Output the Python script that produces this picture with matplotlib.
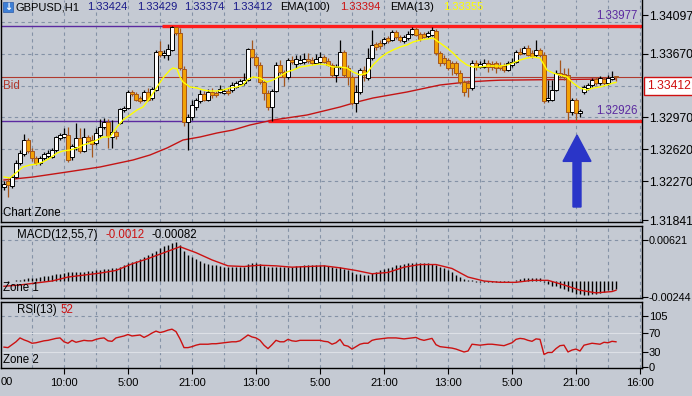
import matplotlib
matplotlib.use("Agg")
import matplotlib.pyplot as plt
from matplotlib.patches import Rectangle, FancyArrow

plt.rcParams['font.family'] = ['Liberation Sans', 'DejaVu Sans']
plt.rcParams['font.size'] = 7.8

# GBPUSD H1 candles
opens = [1.32205, 1.32271, 1.32216, 1.32315, 1.32469, 1.32568, 1.32722, 1.32601, 1.32524, 1.32469,
         1.32524, 1.32546, 1.32535, 1.32612, 1.32744, 1.32755, 1.32777, 1.32535, 1.32645, 1.32744,
         1.32601, 1.32755, 1.32722, 1.32689, 1.32777, 1.32865, 1.32920, 1.32755, 1.32810, 1.32909,
         1.33052, 1.33074, 1.33250, 1.33228, 1.33184, 1.33162, 1.33250, 1.33184, 1.33272, 1.33701,
         1.33657, 1.33657, 1.33712, 1.33965, 1.33899, 1.33503, 1.32920, 1.32975, 1.33085, 1.33151,
         1.33228, 1.33162, 1.33250, 1.33239, 1.33250, 1.33239, 1.33261, 1.33272, 1.33305, 1.33338,
         1.33349, 1.33382, 1.33723, 1.33635, 1.33547, 1.33360, 1.33239, 1.33085, 1.33261, 1.33547,
         1.33470, 1.33415, 1.33602, 1.33558, 1.33569, 1.33580, 1.33613, 1.33602, 1.33569, 1.33580,
         1.33635, 1.33591, 1.33547, 1.33437, 1.33525, 1.33690, 1.33514, 1.33415, 1.33129, 1.33250,
         1.33492, 1.33404, 1.33624, 1.33778, 1.33789, 1.33789, 1.33844, 1.33822, 1.33910, 1.33855,
         1.33811, 1.33844, 1.33888, 1.33943, 1.33888, 1.33888, 1.33866, 1.33877, 1.33921, 1.33679,
         1.33624, 1.33602, 1.33569, 1.33569, 1.33459, 1.33360, 1.33349, 1.33294, 1.33569, 1.33525,
         1.33525, 1.33569, 1.33558, 1.33569, 1.33547, 1.33536, 1.33492, 1.33547, 1.33580, 1.33690,
         1.33679, 1.33734, 1.33679, 1.33657, 1.33712, 1.33657, 1.33162, 1.33162, 1.33272, 1.33459,
         1.33448, 1.33437, 1.33030, 1.33162, 1.33019, 1.33250, 1.33294, 1.33327, 1.33393, 1.33349,
         1.33393, 1.33349, 1.33393, 1.33424]
closes = [1.32238, 1.32227, 1.32315, 1.32469, 1.32579, 1.32722, 1.32601, 1.32524, 1.32469, 1.32524,
          1.32568, 1.32579, 1.32612, 1.32755, 1.32777, 1.32788, 1.32502, 1.32656, 1.32744, 1.32601,
          1.32755, 1.32711, 1.32678, 1.32799, 1.32865, 1.32920, 1.32766, 1.32810, 1.32766, 1.33063,
          1.33074, 1.33250, 1.33228, 1.33162, 1.33151, 1.33250, 1.33162, 1.33283, 1.33690, 1.33657,
          1.33679, 1.33723, 1.33965, 1.33899, 1.33514, 1.32920, 1.32975, 1.33107, 1.33162, 1.33228,
          1.33162, 1.33250, 1.33217, 1.33217, 1.33283, 1.33261, 1.33239, 1.33327, 1.33349, 1.33371,
          1.33382, 1.33723, 1.33635, 1.33547, 1.33360, 1.33239, 1.33085, 1.33261, 1.33547, 1.33470,
          1.33415, 1.33602, 1.33580, 1.33613, 1.33602, 1.33613, 1.33591, 1.33569, 1.33613, 1.33635,
          1.33580, 1.33547, 1.33437, 1.33525, 1.33690, 1.33437, 1.33415, 1.33129, 1.33250, 1.33492,
          1.33437, 1.33624, 1.33767, 1.33745, 1.33756, 1.33833, 1.33811, 1.33910, 1.33855, 1.33822,
          1.33855, 1.33888, 1.33943, 1.33877, 1.33833, 1.33855, 1.33899, 1.33932, 1.33679, 1.33569,
          1.33569, 1.33514, 1.33514, 1.33459, 1.33360, 1.33250, 1.33294, 1.33569, 1.33525, 1.33558,
          1.33569, 1.33525, 1.33525, 1.33514, 1.33514, 1.33492, 1.33569, 1.33580, 1.33690, 1.33668,
          1.33734, 1.33657, 1.33646, 1.33712, 1.33657, 1.33151, 1.33184, 1.33272, 1.33459, 1.33437,
          1.33415, 1.33030, 1.33162, 1.33019, 1.33041, 1.33305, 1.33327, 1.33382, 1.33349, 1.33404,
          1.33349, 1.33404, 1.33415, 1.33412]
highs = [1.32271, 1.32304, 1.32337, 1.32502, 1.32612, 1.32788, 1.32744, 1.32634, 1.32546, 1.32546,
         1.32590, 1.32612, 1.32634, 1.32766, 1.32799, 1.32854, 1.32865, 1.32678, 1.32909, 1.32854,
         1.32854, 1.32777, 1.32777, 1.32854, 1.32953, 1.32964, 1.32953, 1.32942, 1.32832, 1.33074,
         1.33096, 1.33272, 1.33272, 1.33250, 1.33206, 1.33272, 1.33294, 1.33305, 1.33712, 1.33811,
         1.33712, 1.33778, 1.33977, 1.33970, 1.33954, 1.33536, 1.33008, 1.33162, 1.33184, 1.33272,
         1.33261, 1.33283, 1.33294, 1.33261, 1.33327, 1.33283, 1.33294, 1.33360, 1.33371, 1.33393,
         1.33459, 1.33734, 1.33822, 1.33657, 1.33580, 1.33382, 1.33272, 1.33283, 1.33580, 1.33602,
         1.33492, 1.33624, 1.33646, 1.33657, 1.33657, 1.33679, 1.33679, 1.33635, 1.33668, 1.33690,
         1.33657, 1.33624, 1.33569, 1.33558, 1.33822, 1.33712, 1.33547, 1.33437, 1.33327, 1.33514,
         1.33536, 1.33734, 1.33932, 1.33800, 1.33822, 1.33855, 1.33866, 1.33932, 1.33932, 1.33877,
         1.33877, 1.33921, 1.33970, 1.33965, 1.33910, 1.33910, 1.33921, 1.33965, 1.33943, 1.33701,
         1.33657, 1.33624, 1.33591, 1.33591, 1.33492, 1.33382, 1.33382, 1.33602, 1.33602, 1.33591,
         1.33613, 1.33602, 1.33591, 1.33591, 1.33580, 1.33569, 1.33591, 1.33624, 1.33712, 1.33734,
         1.33756, 1.33767, 1.33712, 1.33822, 1.33734, 1.33690, 1.33382, 1.33382, 1.33492, 1.33602,
         1.33514, 1.33514, 1.33184, 1.33184, 1.33063, 1.33327, 1.33349, 1.33404, 1.33415, 1.33426,
         1.33415, 1.33437, 1.33481, 1.33429]
lows = [1.32172, 1.32095, 1.32194, 1.32304, 1.32447, 1.32546, 1.32579, 1.32491, 1.32447, 1.32447,
        1.32502, 1.32524, 1.32524, 1.32590, 1.32722, 1.32744, 1.32480, 1.32502, 1.32612, 1.32579,
        1.32590, 1.32689, 1.32535, 1.32667, 1.32755, 1.32843, 1.32634, 1.32634, 1.32733, 1.32898,
        1.33030, 1.33063, 1.33206, 1.33151, 1.33129, 1.33151, 1.33151, 1.33162, 1.33261, 1.33635,
        1.33624, 1.33602, 1.33701, 1.33877, 1.33492, 1.32876, 1.32612, 1.32942, 1.33052, 1.33129,
        1.33151, 1.33151, 1.33184, 1.33195, 1.33239, 1.33228, 1.33217, 1.33250, 1.33294, 1.33327,
        1.33327, 1.33371, 1.33624, 1.33525, 1.33338, 1.33162, 1.33052, 1.32926, 1.33250, 1.33448,
        1.33316, 1.33393, 1.33558, 1.33514, 1.33558, 1.33558, 1.33569, 1.33547, 1.33558, 1.33558,
        1.33569, 1.33536, 1.33415, 1.33360, 1.33503, 1.33415, 1.33327, 1.33107, 1.33030, 1.33228,
        1.33371, 1.33382, 1.33602, 1.33712, 1.33723, 1.33767, 1.33789, 1.33811, 1.33833, 1.33800,
        1.33789, 1.33822, 1.33877, 1.33866, 1.33811, 1.33844, 1.33844, 1.33866, 1.33657, 1.33536,
        1.33547, 1.33492, 1.33437, 1.33437, 1.33338, 1.33206, 1.33195, 1.33272, 1.33492, 1.33514,
        1.33514, 1.33470, 1.33492, 1.33459, 1.33492, 1.33470, 1.33481, 1.33525, 1.33569, 1.33657,
        1.33668, 1.33646, 1.33624, 1.33635, 1.33635, 1.33129, 1.33140, 1.33151, 1.33261, 1.33404,
        1.33382, 1.32926, 1.32997, 1.32926, 1.32975, 1.33228, 1.33272, 1.33305, 1.33327, 1.33327,
        1.33327, 1.33327, 1.33382, 1.33374]

# EMA(13) and EMA(100), read at bar positions
ema13_bar = [0, 1.5, 3.25, 4.75, 6.5, 8.25, 9.75, 11.5, 13.25, 14.75, 16.5, 18.25, 19.75, 21.5, 23.25,
             24.75, 26.5, 28.25, 29.75, 31.5, 33.25, 34.75, 36.5, 38.25, 39.75, 41.5, 42.25, 43.25, 44,
             44.75, 46.5, 48.25, 49.75, 51.5, 53.25, 54.75, 56.5, 58.25, 59.75, 60.75, 62.25, 64, 65.75,
             67.25, 69, 70.75, 72.25, 74, 75.75, 77.25, 79, 80.75, 82.25, 84, 85.75, 87.25, 89, 90.75,
             92.25, 94, 95.75, 97.25, 99, 100.75, 102.25, 104, 105.75, 107.25, 109, 110.75, 112.25, 114,
             115.75, 117.25, 119, 120.75, 122.25, 124, 125.75, 127.25, 129, 130.75, 132.25, 134, 135.75,
             137.25, 139, 140.75, 142.25, 144, 145.75, 147.25, 149, 150.75, 152.25, 153]
ema13 = [1.32315, 1.32304, 1.32370, 1.32425, 1.32447, 1.32458, 1.32480, 1.32524, 1.32579, 1.32601,
         1.32612, 1.32634, 1.32667, 1.32689, 1.32722, 1.32755, 1.32755, 1.32865, 1.32942, 1.32997,
         1.33052, 1.33085, 1.33184, 1.33305, 1.33404, 1.33492, 1.33514, 1.33503, 1.33415, 1.33360,
         1.33305, 1.33294, 1.33272, 1.33261, 1.33261, 1.33272, 1.33294, 1.33305, 1.33327, 1.33382,
         1.33415, 1.33404, 1.33360, 1.33382, 1.33426, 1.33470, 1.33492, 1.33525, 1.33536, 1.33547,
         1.33558, 1.33547, 1.33525, 1.33525, 1.33514, 1.33470, 1.33437, 1.33459, 1.33547, 1.33624,
         1.33679, 1.33712, 1.33745, 1.33767, 1.33800, 1.33822, 1.33833, 1.33844, 1.33789, 1.33734,
         1.33679, 1.33602, 1.33547, 1.33525, 1.33525, 1.33536, 1.33536, 1.33536, 1.33547, 1.33569,
         1.33602, 1.33624, 1.33635, 1.33624, 1.33492, 1.33459, 1.33437, 1.33415, 1.33349, 1.33294,
         1.33272, 1.33294, 1.33305, 1.33327, 1.33349, 1.33355]
ema100_bar = [0, 7.25, 15.75, 24, 32.25, 36.5, 40.75, 44.75, 49, 53.25, 57.25, 61.5, 67.25, 75.75,
              84, 88.25, 92.25, 100.75, 109, 115.75, 121.5, 124, 132.25, 140.75, 149, 153]
ema100 = [1.32282, 1.32315, 1.32370, 1.32425, 1.32502, 1.32557, 1.32634, 1.32722, 1.32755, 1.32799,
          1.32832, 1.32887, 1.32942, 1.32997, 1.33085, 1.33140, 1.33184, 1.33250, 1.33327, 1.33360,
          1.33375, 1.33380, 1.33384, 1.33388, 1.33392, 1.33394]

# MACD(12,55,7): histogram per bar, signal line read at bar positions
macd_hist = [0.0000, -0.0001, 0.0000, 0.0001, 0.0002, 0.0003, 0.0004, 0.0004, 0.0005, 0.0006,
             0.0007, 0.0008, 0.0009, 0.0010, 0.0011, 0.0012, 0.0013, 0.0013, 0.0014, 0.0014,
             0.0014, 0.0015, 0.0015, 0.0016, 0.0017, 0.0018, 0.0018, 0.0019, 0.0020, 0.0022,
             0.0024, 0.0027, 0.0029, 0.0031, 0.0033, 0.0036, 0.0039, 0.0042, 0.0046, 0.0050,
             0.0053, 0.0055, 0.0058, 0.0059, 0.0055, 0.0046, 0.0040, 0.0036, 0.0033, 0.0030,
             0.0028, 0.0026, 0.0025, 0.0024, 0.0023, 0.0022, 0.0021, 0.0021, 0.0021, 0.0021,
             0.0022, 0.0026, 0.0027, 0.0027, 0.0026, 0.0023, 0.0021, 0.0021, 0.0022, 0.0022,
             0.0021, 0.0022, 0.0022, 0.0023, 0.0023, 0.0024, 0.0024, 0.0024, 0.0024, 0.0025,
             0.0024, 0.0023, 0.0021, 0.0020, 0.0021, 0.0018, 0.0017, 0.0013, 0.0011, 0.0010,
             0.0009, 0.0009, 0.0012, 0.0014, 0.0016, 0.0018, 0.0020, 0.0022, 0.0024, 0.0025,
             0.0026, 0.0027, 0.0027, 0.0027, 0.0027, 0.0027, 0.0027, 0.0026, 0.0024, 0.0022,
             0.0020, 0.0017, 0.0013, 0.0009, 0.0006, 0.0003, 0.0001, 0.0001, -0.0001, -0.0001,
             -0.0001, -0.0002, -0.0002, -0.0002, -0.0002, -0.0002, -0.0001, 0.0000, 0.0002, 0.0003,
             0.0004, 0.0005, 0.0005, 0.0005, 0.0004, -0.0001, -0.0004, -0.0007, -0.0008, -0.0010,
             -0.0012, -0.0015, -0.0017, -0.0019, -0.0020, -0.0021, -0.0021, -0.0020, -0.0019, -0.0018,
             -0.0016, -0.0014, -0.0013, -0.0012]
signal_bar = [0, 4, 8, 12, 16, 20, 24, 28, 32, 36, 40, 44, 48, 52, 56, 60, 64, 68, 72, 76, 80, 84,
              88, 92, 96, 100, 104, 108, 112, 116, 120, 124, 128, 132, 136, 140, 144, 148, 152, 153]
signal = [-0.0008, -0.0006, -0.0003, 0.0000, 0.0006, 0.0009, 0.0012, 0.0016, 0.0026, 0.0034,
          0.0043, 0.0052, 0.0043, 0.0032, 0.0023, 0.0022, 0.0024, 0.0023, 0.0021, 0.0022,
          0.0023, 0.0020, 0.0016, 0.0011, 0.0013, 0.0021, 0.0025, 0.0025, 0.0019, 0.0006,
          0.0000, -0.0002, -0.0002, 0.0001, 0.0001, -0.0006, -0.0014, -0.0018, -0.0016, -0.0014]

# RSI(13) per bar
rsi = [41, 40, 46, 52, 60, 56, 53, 49, 50, 52,
       54, 55, 57, 59, 60, 52, 49, 55, 51, 53,
       55, 54, 54, 57, 59, 60, 54, 53, 60, 62,
       64, 67, 64, 65, 66, 61, 65, 70, 74, 71,
       73, 76, 78, 73, 58, 40, 40, 42, 45, 47,
       47, 47, 48, 48, 49, 50, 51, 52, 52, 54,
       60, 66, 62, 60, 55, 45, 38, 46, 55, 52,
       52, 57, 54, 53, 55, 55, 55, 55, 55, 55,
       53, 52, 47, 50, 57, 45, 43, 37, 42, 47,
       49, 49, 55, 57, 58, 59, 60, 60, 60, 59,
       58, 59, 60, 61, 57, 55, 57, 59, 46, 42,
       41, 40, 39, 37, 34, 31, 33, 47, 46, 45,
       46, 47, 47, 46, 45, 44, 47, 50, 57, 59,
       58, 55, 53, 58, 57, 26, 30, 30, 38, 44,
       45, 31, 35, 37, 33, 45, 47, 49, 48, 47,
       51, 50, 53, 52]

time_bars = [15, 31, 47, 63, 79, 95, 111, 127, 143, 159]
time_labels = ['10:00', '5:00', '21:00', '13:00', '5:00', '21:00', '13:00', '5:00', '21:00', '16:00']
first_label = '00'
price_ticks = [1.34097, 1.33670, 1.32970, 1.32620, 1.32270, 1.31841]
price_grid = [1.31920, 1.32270, 1.32620, 1.32970, 1.33320, 1.33670, 1.34020]
macd_ticks = [0.00621, -0.00244]
rsi_ticks = [105, 70, 30, 0]

bid = 1.33412
resist = 1.33977
support = 1.32926
resist_from = 39.5
support_from = 66
arrow_bar = 143.25
arrow_tail = 1.31985
arrow_tip = 1.32777

BG = '#c5cad3'
GRID = '#8492a6'
BEAR_BODY = '#f2a205'
BEAR_EDGE = '#a5561c'
PURPLE = '#5b2aa0'
RED = '#cc1111'

W, H = 692, 396
fig = plt.figure(figsize=(W / 100, H / 100), dpi=100, facecolor=BG)


def box(top, bottom):
    return [1 / W, 1 - bottom / H, 641 / W, (bottom - top) / H]


def px(x, y):
    return x / W, 1 - y / H


ax = fig.add_axes(box(0, 222))
ax_m = fig.add_axes(box(226, 298), sharex=ax)
ax_r = fig.add_axes(box(302, 368), sharex=ax)

ax.set_xlim(-0.75, 159.5)
ax.set_ylim(1.31820, 1.34262)
ax_m.set_ylim(-0.00258, 0.00835)
ax_r.set_ylim(-2, 134)

for a, size in ((ax, 8.8), (ax_m, 7.8), (ax_r, 8)):
    a.set_facecolor(BG)
    for s in a.spines.values():
        s.set_color('black')
        s.set_linewidth(1)
    a.yaxis.tick_right()
    a.tick_params(axis='y', direction='out', length=4, width=0.8, pad=0.8,
                  colors='black', labelsize=size)
    for g in range(7, 160, 8):
        a.axvline(g, color=GRID, lw=0.8, ls=(0, (3, 3)), zorder=0)
ax.spines['top'].set_visible(False)

ax.set_xticks(time_bars)
ax_r.set_xticklabels(time_labels)
for a in (ax, ax_m):
    a.tick_params(axis='x', length=0, labelbottom=False)
ax_r.tick_params(axis='x', direction='out', length=4, width=0.8, pad=3, labelsize=8)

# main chart
ax.set_yticks(price_ticks)
ax.set_yticklabels([f'{p:.5f}' for p in price_ticks])
for p in price_grid:
    ax.axhline(p, color=GRID, lw=0.8, ls=(0, (3, 3)), zorder=0)

ax.axhline(resist, color=PURPLE, lw=1, zorder=1)
ax.axhline(support, color=PURPLE, lw=1, zorder=1)
ax.hlines(resist, resist_from, 160, color='#ff1c1c', lw=2.4, zorder=2)
ax.hlines(support, support_from, 160, color='#ff1c1c', lw=2.4, zorder=2)
ax.axhline(bid, color='#b03a2e', lw=0.8, zorder=2)

ax.plot(ema100_bar, ema100, color='#c41414', lw=1, zorder=3)

for i in range(len(closes)):
    o, c, h, l = opens[i], closes[i], highs[i], lows[i]
    up = c >= o
    edge = 'black' if up else BEAR_EDGE
    ax.vlines(i, l, h, color=edge, lw=0.9, zorder=4)
    ax.add_patch(Rectangle((i - 0.38, min(o, c)), 0.76, max(abs(c - o), 0.00003),
                           facecolor='white' if up else BEAR_BODY, edgecolor=edge,
                           lw=0.7, zorder=5))

ax.plot(ema13_bar, ema13, color='#ffff00', lw=1, zorder=6)

for lvl in (resist, support):
    ax.annotate(f'{lvl:.5f}', (158.5, lvl), xytext=(0, 3), textcoords='offset points',
                color=PURPLE, ha='right', va='bottom', fontsize=8.3, zorder=7)
fig.text(*px(3, 86), 'Bid', color='#b03a2e', ha='left', va='center', fontsize=8.3)
fig.text(*px(3, 213), 'Chart Zone', ha='left', va='center', fontsize=8.3)

ax.add_patch(FancyArrow(arrow_bar, arrow_tail, 0, arrow_tip - arrow_tail, width=2.0,
                        head_width=7, head_length=0.0029, length_includes_head=True,
                        color='#2a35c8', zorder=8))

fig.text(*px(647, 86), f'{bid:.5f}', color='#d01010', ha='left', va='center', fontsize=8.8,
         bbox=dict(boxstyle='square,pad=0.25', fc='white', ec='#d01010', lw=1))

# header
fig.patches.append(Rectangle(px(3, 12), 10 / W, 10 / H, transform=fig.transFigure,
                             facecolor='#3d7fd6', edgecolor='#2a5aa8', lw=0.5))
fig.text(*px(8, 7), '\u2193', color='white', ha='center', va='center', fontsize=7,
         weight='bold', family='DejaVu Sans')
header = [(16, 'GBPUSD,H1', 'black'), (87, '1.33424', '#1a1a8a'), (137, '1.33429', '#1a1a8a'),
          (184, '1.33374', '#1a1a8a'), (232, '1.33412', '#1a1a8a'), (280, 'EMA(100)', 'black'),
          (340, '1.33394', '#cc1111'), (390, 'EMA(13)', 'black'), (443, '1.33355', '#ffff00')]
for x, s, col in header:
    fig.text(*px(x, 7), s, color=col, ha='left', va='center', fontsize=8)

# MACD
ax_m.vlines(range(len(macd_hist)), 0, macd_hist, color='black', lw=1, zorder=3)
ax_m.plot(signal_bar, signal, color=RED, lw=1, zorder=4)
ax_m.axhline(0.00621, color=GRID, lw=0.8, ls=(0, (3, 3)), zorder=0)
ax_m.set_yticks(macd_ticks)
ax_m.set_yticklabels(['0.00621', '-0.00244'])
fig.text(*px(17, 235), 'MACD(12,55,7)', ha='left', va='center', fontsize=8.3)
fig.text(*px(105, 235), '-0.0012', color=RED, ha='left', va='center', fontsize=8.3)
fig.text(*px(151, 235), '-0.00082', ha='left', va='center', fontsize=8.3)
fig.text(*px(3, 288), 'Zone 1', ha='left', va='center', fontsize=8.3)

# RSI
ax_r.plot(range(len(rsi)), rsi, color=RED, lw=1, zorder=4)
ax_r.axhline(105, color=GRID, lw=0.8, ls=(0, (3, 3)), zorder=0)
ax_r.axhline(70, color='#dde0e6', lw=0.8, zorder=1)
ax_r.axhline(30, color='#dde0e6', lw=0.8, zorder=1)
ax_r.set_yticks(rsi_ticks)
ax_r.set_yticklabels([str(v) for v in rsi_ticks])
fig.text(*px(17, 310), 'RSI(13)', ha='left', va='center', fontsize=8.3)
fig.text(*px(60, 310), '52', color=RED, ha='left', va='center', fontsize=8.3)
fig.text(*px(3, 360), 'Zone 2', ha='left', va='center', fontsize=8.3)
fig.text(*px(0.5, 382), first_label, ha='left', va='center', fontsize=8)

fig.savefig('out.png', dpi=100, facecolor=BG)
